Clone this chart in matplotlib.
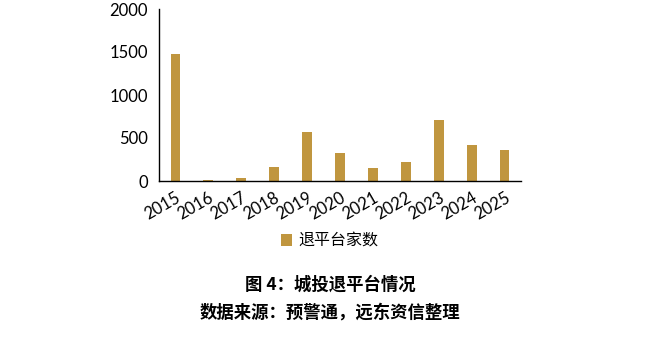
import matplotlib.pyplot as plt

years = ["2015", "2016", "2017", "2018", "2019", "2020",
         "2021", "2022", "2023", "2024", "2025"]
exits = [1480, 10, 30, 166, 570, 322, 151, 217, 709, 422, 364]

BAR_COLOR = "#C0963F"

plt.rcParams["font.family"] = ["Lato", "Noto Sans CJK SC", "DejaVu Sans"]

fig = plt.figure(figsize=(6.6, 3.41), dpi=100)
ax = fig.add_axes([159 / 660, 1 - 181 / 341, (521 - 159) / 660, (181 - 9) / 341])

x = range(len(years))
ax.bar(x, exits, width=0.3, color=BAR_COLOR, label="退平台家数")
ax.set_xlim(-0.5, len(years) - 0.5)
ax.set_ylim(0, 2000)
ax.set_yticks([0, 500, 1000, 1500, 2000])
ax.set_xticks(list(x))
ax.set_xticklabels(years, rotation=30, ha="right", rotation_mode="anchor")
ax.tick_params(axis="both", length=0, labelsize=12)
ax.tick_params(axis="y", pad=8)
ax.tick_params(axis="x", pad=6)
for side in ("top", "right"):
    ax.spines[side].set_visible(False)
for side in ("left", "bottom"):
    ax.spines[side].set_color("black")
    ax.spines[side].set_linewidth(1.0)

leg = fig.legend(loc="center", bbox_to_anchor=(330 / 660, 1 - 241 / 341),
                 frameon=False, handlelength=0.7, handleheight=0.7,
                 handletextpad=0.4, prop={"family": "Noto Sans CJK SC", "size": 11.5})

fig.text(0.5, 1 - 285 / 341, "图 4：城投退平台情况", ha="center", va="center",
         fontsize=12.5, fontweight="bold", family="Noto Sans CJK SC")
fig.text(0.5, 1 - 313 / 341, "数据来源：预警通，远东资信整理", ha="center", va="center",
         fontsize=12.5, fontweight="bold", family="Noto Sans CJK SC")

fig.savefig("out.png", dpi=100)
